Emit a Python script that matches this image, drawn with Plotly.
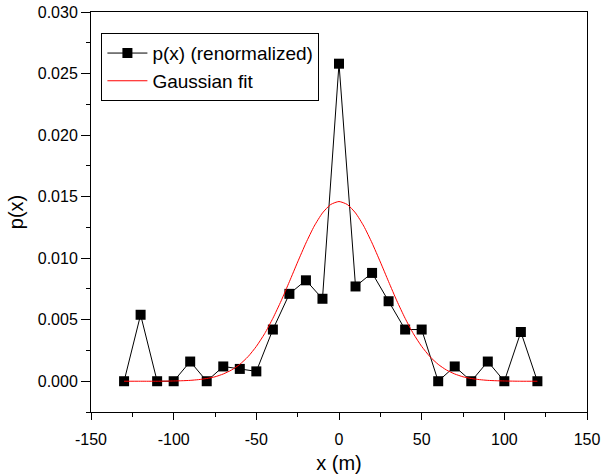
import plotly.graph_objects as go

# Data
x_pos = [-130, -120, -110, -100, -90, -80, -70, -60, -50, -40, -30, -20, -10,
         0, 10, 20, 30, 40, 50, 60, 70, 80, 90, 100, 110, 120]
p_renorm = [0.0, 0.0054, 0.0, 0.0, 0.0016, 0.0, 0.0012, 0.0010, 0.0008, 0.0042,
            0.0071, 0.0082, 0.0067, 0.0258, 0.0077, 0.0088, 0.0065, 0.0042,
            0.0042, 0.0, 0.0012, 0.0, 0.0016, 0.0, 0.0040, 0.0]

fit_x = [-130, -120, -110, -100, -95, -90, -85, -80, -75, -70, -65, -60, -55, -50,
         -45, -40, -35, -30, -25, -20, -15, -10, -5, 0, 5, 10, 15, 20, 25, 30,
         35, 40, 45, 50, 55, 60, 65, 70, 75, 80, 85, 90, 95, 100, 110, 120]
fit_y = [0.0, 0.0, 0.0, 0.00002, 0.00004, 0.00007, 0.00013, 0.00022, 0.00036,
         0.00059, 0.00091, 0.00137, 0.00200, 0.00283, 0.00386, 0.00511, 0.00653,
         0.00809, 0.00969, 0.01123, 0.01260, 0.01367, 0.01436, 0.01460, 0.01436,
         0.01367, 0.01260, 0.01123, 0.00969, 0.00809, 0.00653, 0.00511, 0.00386,
         0.00283, 0.00200, 0.00137, 0.00091, 0.00059, 0.00036, 0.00022, 0.00013,
         0.00007, 0.00004, 0.00002, 0.0, 0.0]

x_tickvals = [-150, -100, -50, 0, 50, 100, 150]
x_ticktext = ["-150", "-100", "-50", "0", "50", "100", "150"]
y_tickvals = [0.000, 0.005, 0.010, 0.015, 0.020, 0.025, 0.030]
y_ticktext = ["0.000", "0.005", "0.010", "0.015", "0.020", "0.025", "0.030"]

x_range = [-150, 150]
y_range = [-0.0025, 0.030]

FONT = "Arial, Liberation Sans, sans-serif"

fig = go.Figure()
fig.add_trace(go.Scatter(
    x=x_pos, y=p_renorm, mode="lines+markers", name="p(x) (renormalized)",
    line=dict(color="black", width=1),
    marker=dict(symbol="square", size=10, color="black"),
))
fig.add_trace(go.Scatter(
    x=fit_x, y=fit_y, mode="lines", name="Gaussian fit",
    line=dict(color="red", width=1, shape="spline", smoothing=0.6),
))

common_x = dict(range=x_range, tickmode="array", tickvals=x_tickvals,
                automargin=False,
                minor=dict(tickmode="linear", tick0=-150, dtick=25, ticklen=4,
                           tickcolor="black"))
common_y = dict(range=y_range, tickmode="array", tickvals=y_tickvals,
                automargin=False,
                minor=dict(tickmode="linear", tick0=0, dtick=0.0025, ticklen=4,
                           tickcolor="black"))

fig.update_layout(
    width=602, height=474,
    margin=dict(l=91, r=15, t=12, b=62),
    paper_bgcolor="white", plot_bgcolor="white",
    font=dict(family=FONT, size=16, color="black"),
    showlegend=True,
    legend=dict(x=0.021, y=0.947, xanchor="left", yanchor="top",
                bgcolor="white", bordercolor="black", borderwidth=1,
                font=dict(family=FONT, size=19, color="black"),
                itemwidth=40, tracegroupgap=0),
    xaxis=dict(**common_x, ticktext=x_ticktext,
               showgrid=False, zeroline=False, showline=True,
               linecolor="black", linewidth=1, mirror=True,
               ticks="outside", ticklen=7, tickcolor="black",
               tickfont=dict(size=16), ticklabelstandoff=6,
               title=dict(text="x (m)", font=dict(size=20), standoff=14)),
    yaxis=dict(**common_y, ticktext=y_ticktext,
               showgrid=False, zeroline=False, showline=True,
               linecolor="black", linewidth=1, mirror=True,
               ticks="outside", ticklen=9, tickcolor="black",
               tickfont=dict(size=16),
               title=dict(text="p(x)", font=dict(size=20), standoff=8)),
    xaxis2=dict(**common_x, overlaying="x", side="top", anchor="y",
                showgrid=False, zeroline=False, showline=False,
                ticks="inside", ticklen=7, tickcolor="black",
                showticklabels=False),
    yaxis2=dict(**common_y, overlaying="y", side="right", anchor="x",
                showgrid=False, zeroline=False, showline=False,
                ticks="inside", ticklen=9, tickcolor="black",
                showticklabels=False),
)
fig.update_layout(xaxis2_minor=dict(ticks="inside"), yaxis2_minor=dict(ticks="inside"),
                  xaxis_minor=dict(ticks="outside"), yaxis_minor=dict(ticks="outside"))

fig.write_html("out.html")
